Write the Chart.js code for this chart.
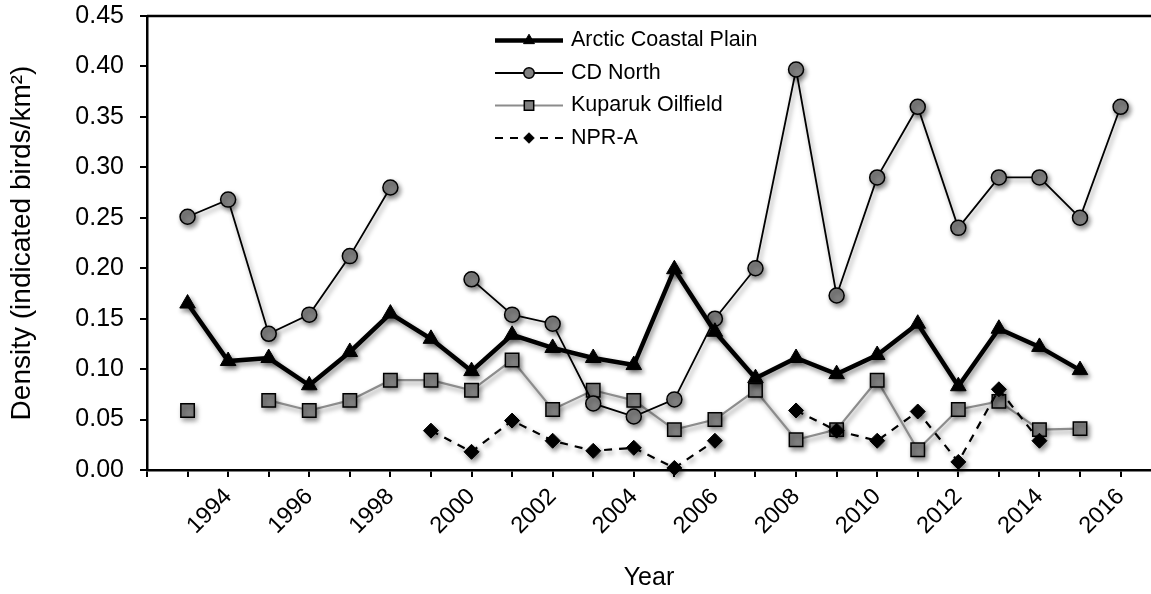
<!DOCTYPE html>
<html>
<head>
<meta charset="utf-8">
<script src="https://cdn.jsdelivr.net/npm/chart.js@4/dist/chart.umd.min.js"></script>
<style>
  html, body { margin: 0; padding: 0; background: #fff; }
  #wrap { width: 1151px; height: 594px; position: relative; }
</style>
</head>
<body>
<div id="wrap"><canvas id="c" width="1151" height="594"></canvas></div>
<script>
// Survey years (one value per year; null = not surveyed)
const years = [1993, 1994, 1995, 1996, 1997, 1998, 1999, 2000, 2001, 2002, 2003, 2004,
               2005, 2006, 2007, 2008, 2009, 2010, 2011, 2012, 2013, 2014, 2015, 2016];

const arcticCoastalPlain = [0.165, 0.108, 0.111, 0.084, 0.117, 0.155, 0.130, 0.098, 0.134, 0.121, 0.111, 0.104,
                            0.199, 0.137, 0.091, 0.111, 0.095, 0.114, 0.145, 0.083, 0.140, 0.122, 0.099, null];

const cdNorth = [0.251, 0.268, 0.135, 0.154, 0.212, 0.280, null, 0.189, 0.154, 0.145, 0.066, 0.053,
                 0.070, 0.150, 0.200, 0.397, 0.173, 0.290, 0.360, 0.240, 0.290, 0.290, 0.250, 0.360];

const kuparukOilfield = [0.059, null, 0.069, 0.059, 0.069, 0.089, 0.089, 0.079, 0.109, 0.060, 0.079, 0.069,
                         0.040, 0.050, 0.079, 0.030, 0.040, 0.089, 0.020, 0.060, 0.068, 0.040, 0.041, null];

const nprA = [null, null, null, null, null, null, 0.039, 0.018, 0.049, 0.029, 0.019, 0.022,
              0.002, 0.029, null, 0.059, 0.039, 0.029, 0.058, 0.008, 0.080, 0.029, null, null];

const yTicks = [0.00, 0.05, 0.10, 0.15, 0.20, 0.25, 0.30, 0.35, 0.40, 0.45];
const xLabelYears = [1994, 1996, 1998, 2000, 2002, 2004, 2006, 2008, 2010, 2012, 2014, 2016];

const FONT = "'Liberation Sans', Arial, Helvetica, sans-serif";

const toPoints = arr => years.map((yr, i) => ({ x: yr, y: arr[i] }));

// Soft drop shadow under the plotted series
const seriesShadow = {
  id: 'seriesShadow',
  beforeDatasetsDraw(chart) {
    const ctx = chart.ctx;
    ctx.save();
    ctx.shadowColor = 'rgba(0,0,0,0.45)';
    ctx.shadowBlur = 5;
    ctx.shadowOffsetX = 2;
    ctx.shadowOffsetY = 3;
  },
  afterDatasetsDraw(chart) {
    chart.ctx.restore();
  }
};

// Frame line along the top of the plot area
const topFrame = {
  id: 'topFrame',
  afterDraw(chart) {
    const { ctx, chartArea } = chart;
    ctx.save();
    ctx.strokeStyle = '#000';
    ctx.lineWidth = 2.5;
    ctx.beginPath();
    ctx.moveTo(chartArea.left, chartArea.top);
    ctx.lineTo(chartArea.right, chartArea.top);
    ctx.stroke();
    ctx.restore();
  }
};

// Legend drawn inside the plot: line sample with marker, then the label
const insetLegend = {
  id: 'insetLegend',
  afterDraw(chart, args, opts) {
    const ctx = chart.ctx;
    ctx.save();
    ctx.font = opts.font;
    ctx.textBaseline = 'middle';
    ctx.textAlign = 'left';
    chart.data.datasets.forEach((ds, i) => {
      const y = opts.top + i * opts.rowGap;
      ctx.strokeStyle = ds.borderColor;
      ctx.lineWidth = ds.borderWidth;
      ctx.setLineDash(ds.borderDash || []);
      ctx.beginPath();
      ctx.moveTo(opts.x0, y);
      ctx.lineTo(opts.x1, y);
      ctx.stroke();
      ctx.setLineDash([]);
      ctx.fillStyle = ds.pointBackgroundColor;
      ctx.strokeStyle = ds.pointBorderColor;
      ctx.lineWidth = ds.pointBorderWidth;
      Chart.helpers.drawPoint(ctx, {
        pointStyle: ds.pointStyle,
        radius: ds.pointRadius * opts.markerScale,
        borderWidth: ds.pointBorderWidth,
        rotation: 0
      }, (opts.x0 + opts.x1) / 2, y);
      ctx.fillStyle = '#000';
      ctx.fillText(ds.label, opts.x1 + opts.textGap, y);
    });
    ctx.restore();
  }
};

new Chart(document.getElementById('c'), {
  type: 'line',
  data: {
    datasets: [
      {
        label: 'Arctic Coastal Plain',
        data: toPoints(arcticCoastalPlain),
        borderColor: '#000', borderWidth: 4.5,
        pointStyle: 'triangle', pointRadius: 9,
        pointBackgroundColor: '#000', pointBorderColor: '#000', pointBorderWidth: 1,
        order: 0
      },
      {
        label: 'CD North',
        data: toPoints(cdNorth),
        borderColor: '#000', borderWidth: 1.8,
        pointStyle: 'circle', pointRadius: 7.5,
        pointBackgroundColor: '#808080', pointBorderColor: '#000', pointBorderWidth: 1.5,
        order: 2
      },
      {
        label: 'Kuparuk Oilfield',
        data: toPoints(kuparukOilfield),
        borderColor: '#8c8c8c', borderWidth: 2.2,
        pointStyle: 'rect', pointRadius: 9.5,
        pointBackgroundColor: '#808080', pointBorderColor: '#000', pointBorderWidth: 1.5,
        order: 3
      },
      {
        label: 'NPR-A',
        data: toPoints(nprA),
        borderColor: '#000', borderWidth: 2.2, borderDash: [8, 7],
        pointStyle: 'rectRot', pointRadius: 7.5,
        pointBackgroundColor: '#000', pointBorderColor: '#000', pointBorderWidth: 1,
        order: 1
      }
    ]
  },
  options: {
    responsive: false,
    animation: false,
    spanGaps: false,
    clip: false,
    layout: { autoPadding: false, padding: { top: 16, right: 0, left: 0, bottom: 0 } },
    elements: { line: { tension: 0, fill: false } },
    plugins: {
      legend: { display: false },
      tooltip: { enabled: false },
      insetLegend: {
        x0: 495, x1: 563, top: 40.5, rowGap: 32.5, textGap: 8, markerScale: 0.7,
        font: '21.5px ' + FONT
      }
    },
    scales: {
      x: {
        type: 'linear',
        min: 1992, max: 2016.75,
        afterFit: s => { s.height = 124; s.paddingRight = 0; s.paddingLeft = 0; },
        border: { display: true, color: '#000', width: 2.5 },
        grid: { display: true, drawOnChartArea: false, drawTicks: true, tickLength: 7, color: '#000', lineWidth: 2 },
        ticks: {
          stepSize: 1, includeBounds: false, autoSkip: false,
          minRotation: 45, maxRotation: 45, padding: 6,
          color: '#000', font: { family: FONT, size: 23.5 },
          callback: v => xLabelYears.includes(v) ? String(v) : ''
        },
        title: {
          display: true, text: 'Year', color: '#000',
          font: { family: FONT, size: 25 }, padding: { top: 0, bottom: 1 }
        }
      },
      y: {
        min: yTicks[0], max: yTicks[yTicks.length - 1],
        afterFit: s => { s.width = 147; s.paddingTop = 0; s.paddingBottom = 0; },
        afterBuildTicks: s => { s.ticks = yTicks.map(v => ({ value: v })); },
        border: { display: true, color: '#000', width: 2.5 },
        grid: { display: true, drawOnChartArea: false, drawTicks: true, tickLength: 7, color: '#000', lineWidth: 2 },
        ticks: {
          padding: 16, color: '#000', font: { family: FONT, size: 25 },
          callback: v => Number(v).toFixed(2)
        },
        title: {
          display: true, text: 'Density (indicated birds/km²)', color: '#000',
          font: { family: FONT, size: 28 }, padding: { top: 5, bottom: 0 }
        }
      }
    }
  },
  plugins: [seriesShadow, topFrame, insetLegend]
});
</script>
</body>
</html>
